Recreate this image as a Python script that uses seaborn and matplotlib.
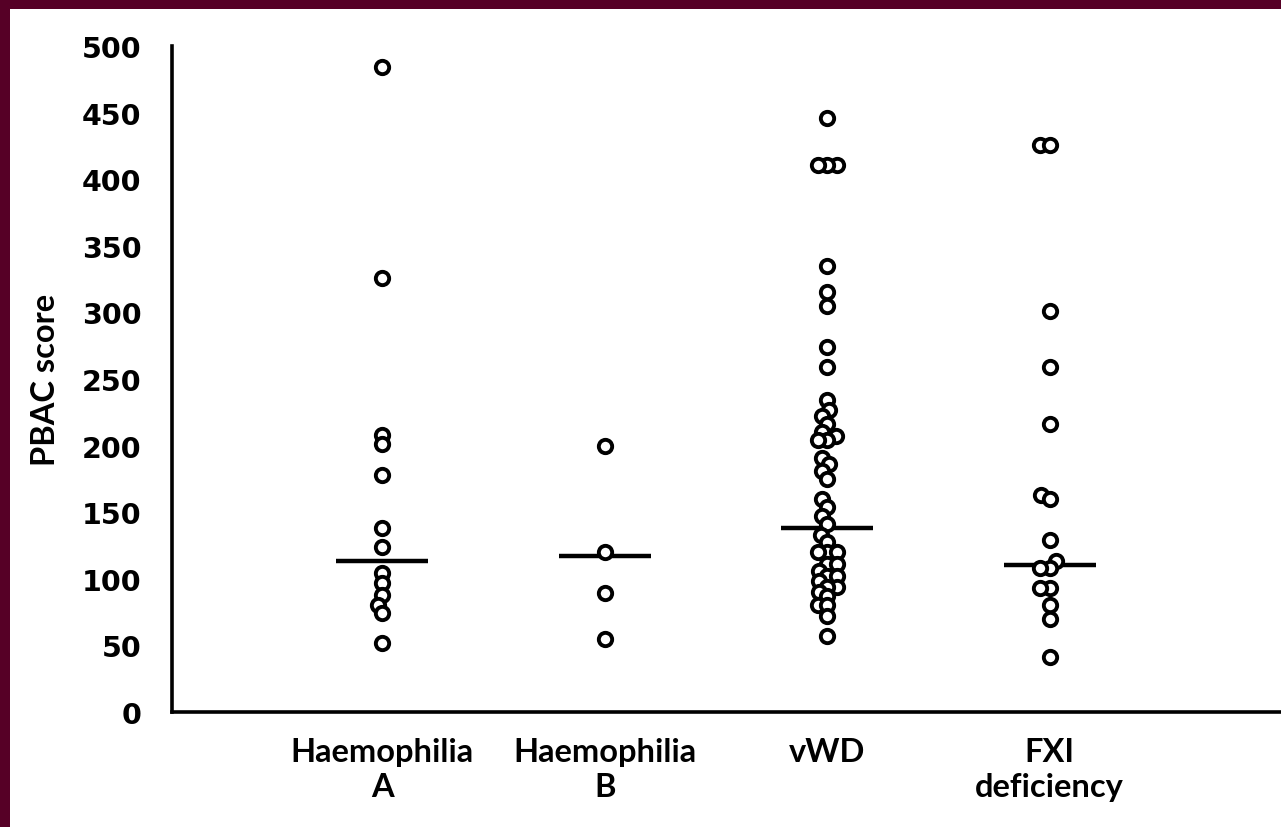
import matplotlib
matplotlib.use("Agg")
import matplotlib.pyplot as plt
from matplotlib.patches import Rectangle
import seaborn as sns
import pandas as pd

categories = ["Haemophilia\nA", "Haemophilia\nB", "vWD", "FXI\ndeficiency"]

haem_a = [484, 326, 208, 201, 178, 138, 124, 104, 97, 88, 80, 74, 52]
haem_b = [200, 120, 89, 55]
vwd = [446, 411, 411, 411, 335, 315, 305, 274, 259, 234, 227, 222, 216, 210,
       207, 204, 204, 191, 186, 181, 175, 160, 154, 147, 141, 133, 128,
       120, 120, 120, 111, 111, 106, 102, 102, 98, 94, 94, 90, 87,
       80, 80, 72, 57]
fxi = [426, 426, 301, 259, 216, 163, 160, 129, 113, 108, 108, 93, 93, 80, 70, 41]

medians = [113, 117, 138, 110]

yticks = [0, 50, 100, 150, 200, 250, 300, 350, 400, 450, 500]

groups = [haem_a, haem_b, vwd, fxi]
df = pd.DataFrame({
    "group": [c for c, g in zip(categories, groups) for _ in g],
    "score": [v for g in groups for v in g],
})

sns.set_theme(style="white")
plt.rcParams["font.family"] = ["Lato", "DejaVu Sans"]
plt.rcParams["text.color"] = "black"
plt.rcParams["axes.labelcolor"] = "black"
plt.rcParams["xtick.color"] = "black"
plt.rcParams["ytick.color"] = "black"

fig = plt.figure(figsize=(12.81, 8.28), dpi=100)
fig.patch.set_facecolor("#560026")
fig.add_artist(Rectangle((10 / 1281, 0), 1, 1 - 10 / 828, transform=fig.transFigure,
                         facecolor="white", edgecolor="none", zorder=0))

ax = fig.add_axes([172 / 1281, 1 - 713 / 828, 1 - 172 / 1281, (713 - 47) / 828])
ax.set_facecolor("none")

sns.swarmplot(data=df, x="group", y="score", order=categories, ax=ax,
              size=3.8, marker="o", color="white", edgecolor="black",
              linewidth=2.8, zorder=3)

ax.set_xlim(-0.945, 4.04)
ax.set_ylim(0, 500)

# let seaborn lay out the (tightly packed) swarm, then freeze it and draw the circles larger
fig.canvas.draw()
for coll in ax.collections:
    if "draw" in coll.__dict__:
        del coll.draw
    coll.set_sizes([9.6 ** 2])

half = 0.207
for i, m in enumerate(medians):
    ax.hlines(m, i - half, i + half, color="black", linewidth=3.2, zorder=2)

ax.set_yticks(yticks)
ax.set_yticklabels([str(t) for t in yticks], fontsize=20.5, fontweight="bold",
                   family=["DejaVu Sans"], color="black")
ax.set_xticks(range(len(categories)))
ax.set_xticklabels(categories, fontsize=23.5, fontweight="bold", linespacing=1.25,
                   color="black")
ax.tick_params(axis="y", direction="out", length=14, width=2.2, color="black", pad=8)
ax.tick_params(axis="x", length=0, pad=18)
ax.set_xlabel("")
ax.set_ylabel("PBAC score", fontsize=23.5, fontweight="bold", labelpad=16, color="black")

for side in ["top", "right"]:
    ax.spines[side].set_visible(False)
for side in ["left", "bottom"]:
    ax.spines[side].set_color("black")
    ax.spines[side].set_linewidth(2.6)

fig.savefig("out.png", dpi=100, facecolor=fig.get_facecolor())
